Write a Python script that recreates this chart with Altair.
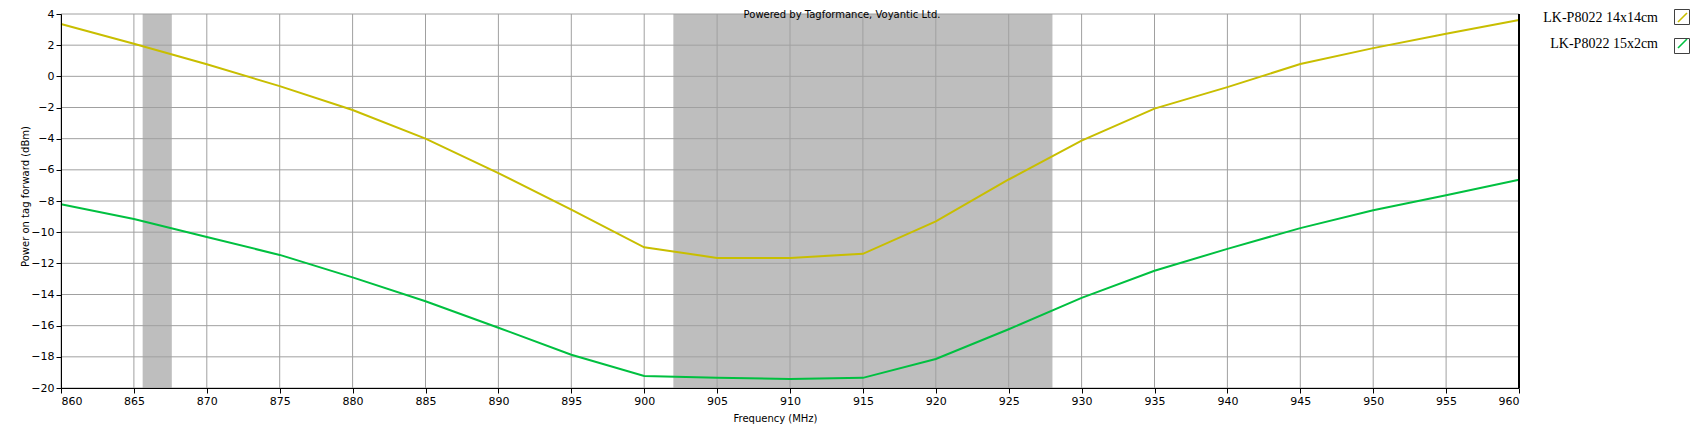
import altair as alt
import pandas as pd

# ---- data ----
freq = [860, 865, 870, 875, 880, 885, 890, 895, 900, 905, 910,
        915, 920, 925, 930, 935, 940, 945, 950, 955, 960]
tag_14x14 = [3.36, 2.09, 0.77, -0.63, -2.16, -4.0, -6.21, -8.55, -10.97, -11.65, -11.65,
             -11.39, -9.31, -6.62, -4.13, -2.07, -0.69, 0.79, 1.81, 2.73, 3.62]
tag_15x2 = [-8.21, -9.16, -10.31, -11.46, -12.90, -14.43, -16.13, -17.87, -19.23, -19.35, -19.42,
            -19.35, -18.14, -16.23, -14.22, -12.48, -11.07, -9.74, -8.59, -7.63, -6.64]
series_names = ["LK-P8022 14x14cm", "LK-P8022 15x2cm"]
series_colors = ["#C8BE00", "#00C040"]

band_start = [865.6, 902.0]
band_end = [867.6, 928.0]

x_ticks = [860, 865, 870, 875, 880, 885, 890, 895, 900, 905, 910,
           915, 920, 925, 930, 935, 940, 945, 950, 955, 960]
y_ticks = [4, 2, 0, -2, -4, -6, -8, -10, -12, -14, -16, -18, -20]

X_DOMAIN = [860, 960]
Y_DOMAIN = [-20, 4]

rows = []
for name, vals in zip(series_names, [tag_14x14, tag_15x2]):
    for f, v in zip(freq, vals):
        rows.append({"freq": f, "power": v, "series": name, "series_box": name})
df = pd.DataFrame(rows)
bands = pd.DataFrame({"start": band_start, "end": band_end})
xt = pd.DataFrame({"x": x_ticks})
yt = pd.DataFrame({"y": y_ticks})

W, H = 1458, 374
FONT = "DejaVu Sans"

xscale = alt.Scale(domain=X_DOMAIN, nice=False, zero=False)
yscale = alt.Scale(domain=Y_DOMAIN, nice=False, zero=False)

x_axis = alt.Axis(values=x_ticks, title="Frequency (MHz)", grid=False, tickSize=5,
                  labelPadding=2, labelOverlap=False, titleX=714, titleY=30,
                  titleBaseline="middle", titleAnchor="middle", zindex=1)
y_axis = alt.Axis(values=y_ticks, title="Power on tag forward (dBm)", grid=False, tickSize=5,
                  labelPadding=2, labelOverlap=False, titleX=-36, titleY=182,
                  titleBaseline="middle", titleAlign="center", zindex=1)

band_layer = alt.Chart(bands).mark_rect(color="#BEBEBE").encode(
    x=alt.X("start:Q", scale=xscale, axis=x_axis),
    x2="end:Q",
    y=alt.value(0),
    y2=alt.value(H),
)

xgrid = alt.Chart(xt).mark_rule(color="#A0A0A0", strokeWidth=1).encode(
    x=alt.X("x:Q", scale=xscale, axis=x_axis),
)
ygrid = alt.Chart(yt).mark_rule(color="#A0A0A0", strokeWidth=1).encode(
    y=alt.Y("y:Q", scale=yscale, axis=y_axis),
)

box_path = "M-1,-1H1V1H-1Z"
diag_path = "M-0.6,0.6L0.6,-0.6"

LEG_X = 1613
LEG_Y = -5
LBL_OFF = {"expr": "-33"}

lines = alt.Chart(df).mark_line(strokeWidth=2).encode(
    x=alt.X("freq:Q", scale=xscale, axis=x_axis),
    y=alt.Y("power:Q", scale=yscale, axis=y_axis),
    color=alt.Color("series:N",
                    scale=alt.Scale(domain=series_names, range=series_colors),
                    legend=alt.Legend(orient="none", legendX=LEG_X, legendY=LEG_Y, title=None,
                                      symbolType=diag_path, symbolSize=225,
                                      symbolStrokeWidth=1.6, symbolFillColor="transparent",
                                      labelFont="Liberation Serif", labelFontSize=14,
                                      labelColor="#000000", labelAlign="right",
                                      labelOffset=LBL_OFF, rowPadding=9, padding=0,
                                      labelBaseline="middle")),
)

boxes = alt.Chart(df).mark_point(opacity=0, filled=False).encode(
    x=alt.X("freq:Q", scale=xscale, axis=x_axis),
    y=alt.Y("power:Q", scale=yscale, axis=y_axis),
    shape=alt.Shape("series_box:N",
                    scale=alt.Scale(domain=series_names, range=[box_path, box_path]),
                    legend=alt.Legend(orient="none", legendX=LEG_X, legendY=LEG_Y, title=None,
                                      symbolSize=225,
                                      symbolStrokeColor="#404040",
                                      symbolFillColor="transparent", symbolOpacity=1,
                                      symbolStrokeWidth=1,
                                      labelFont="Liberation Serif", labelFontSize=14,
                                      labelExpr="''", labelOffset=LBL_OFF, labelAlign="right",
                                      rowPadding=9, padding=0, labelBaseline="middle")),
)

right_border = alt.Chart(xt).mark_rule(color="#000000", strokeWidth=1).encode(
    x=alt.datum(X_DOMAIN[1], scale=xscale, axis=x_axis),
)

chart = alt.layer(band_layer, xgrid, ygrid, lines, boxes, right_border).properties(
    width=W, height=H,
    title=alt.TitleParams("Powered by Tagformance, Voyantic Ltd.", font=FONT, fontSize=10,
                          fontWeight="normal", color="#000000", anchor="middle",
                          frame="group", offset=-12, dx=52, baseline="top"),
    autosize=alt.AutoSizeParams(type="none"),
    padding={"left": 53, "top": 6, "right": 177, "bottom": 44},
).resolve_scale(color="independent", shape="independent").configure_view(
    stroke=None
).configure_axis(
    labelFont=FONT, labelFontSize=11, labelColor="#000000",
    titleFont=FONT, titleFontSize=10, titleFontWeight="normal", titleColor="#000000",
    domainColor="#000000", tickColor="#000000", labelOverlap=False,
)

chart.save("out.html", embed_options={"renderer": "svg", "actions": False})
